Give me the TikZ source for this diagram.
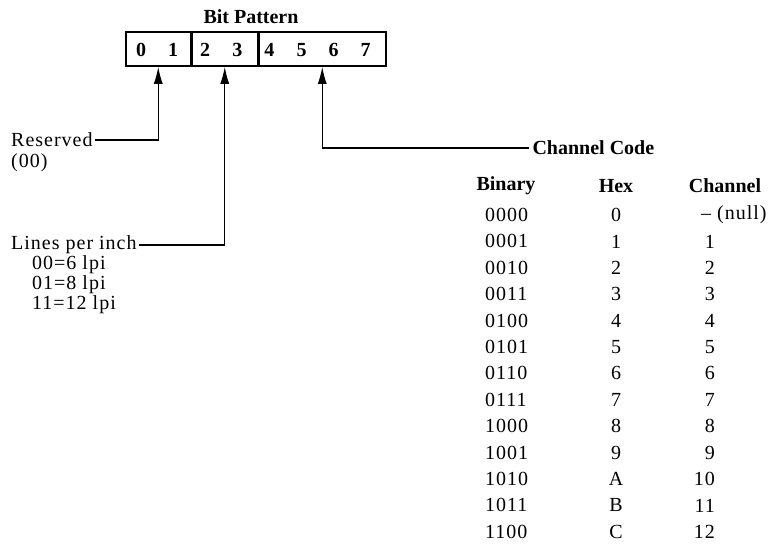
\documentclass[tikz,border=0pt]{standalone}
\usepackage{fontspec}
\setmainfont{Liberation Serif}
\usetikzlibrary{arrows.meta,positioning}

\tikzset{
  field/.style={draw,line width=1.5pt,minimum height=34pt,inner sep=0pt},
  bitno/.style={font=\bfseries\fontsize{20}{20}\selectfont},
  lbl/.style={anchor=west,inner sep=2pt,font=\fontsize{20}{20}\selectfont\addfontfeature{LetterSpace=5}},
  cell/.style={inner sep=2pt,font=\fontsize{20}{20}\selectfont\addfontfeature{LetterSpace=5}},
  head/.style={font=\bfseries\fontsize{20}{20}\selectfont},
  ptr/.style={line width=1.4pt,-{Latex[length=17pt,width=9pt]}},
}

\begin{document}
\begin{tikzpicture}[x=1pt,y=-1pt]
  \useasboundingbox (0,0) rectangle (775,544);
  % bit pattern
  \node[field,minimum width=65pt,anchor=west] (f01) at (125,49) {};
  \node[field,minimum width=65pt,right=0pt of f01] (f23) {};
  \node[field,minimum width=127pt,right=0pt of f23] (f47) {};
  \node[head] (title) at (251,17) {Bit Pattern};
  \foreach \b in {0,...,7}
    \node[bitno] (b\b) at (141+32.1*\b,50) {\b};

  % left labels
  \node[lbl] (resv) at (9,140) {Reserved};
  \node[lbl] (resv00) at (9,163) {(00)};
  \node[lbl] (lpi) at (9,245) {Lines per inch};
  \node[lbl] (lpi6) at (30,265) {00=6 lpi};
  \node[lbl] (lpi8) at (30,285) {01=8 lpi};
  \node[lbl] (lpi12) at (30,305) {11=12 lpi};

  % channel code table
  \node[head,anchor=west] (chcode) at (529,148) {Channel Code};
  \node[head] (hbin) at (506,186) {Binary};
  \node[head] (hhex) at (616,186) {Hex};
  \node[head] (hch) at (725,186) {Channel};
  \node[cell,anchor=west] (bin0) at (483,215) {0000};
  \node[cell] (hex0) at (616,215) {0};
  \node[cell,anchor=west] (ch0) at (699,215) {-- (null)};
  \foreach \bin/\hx/\ch [count=\i] in {0001/1/1,0010/2/2,0011/3/3,0100/4/4,
      0101/5/5,0110/6/6,0111/7/7,1000/8/8,1001/9/9,1010/A/10,1011/B/11,1100/C/12} {
    \node[cell,anchor=west] (bin\i) at (483,215+26.4*\i) {\bin};
    \node[cell] (hex\i) at (616,215+26.4*\i) {\hx};
    \node[cell,anchor=east] (ch\i) at (717,215+26.4*\i) {\ch};
  }

  % pointers
  \draw[ptr] (resv.east) -| (f01.south);
  \draw[ptr] (lpi.east) -| (f23.south);
  \draw[ptr] (chcode.west) -| (f47.south);
\end{tikzpicture}
\end{document}
